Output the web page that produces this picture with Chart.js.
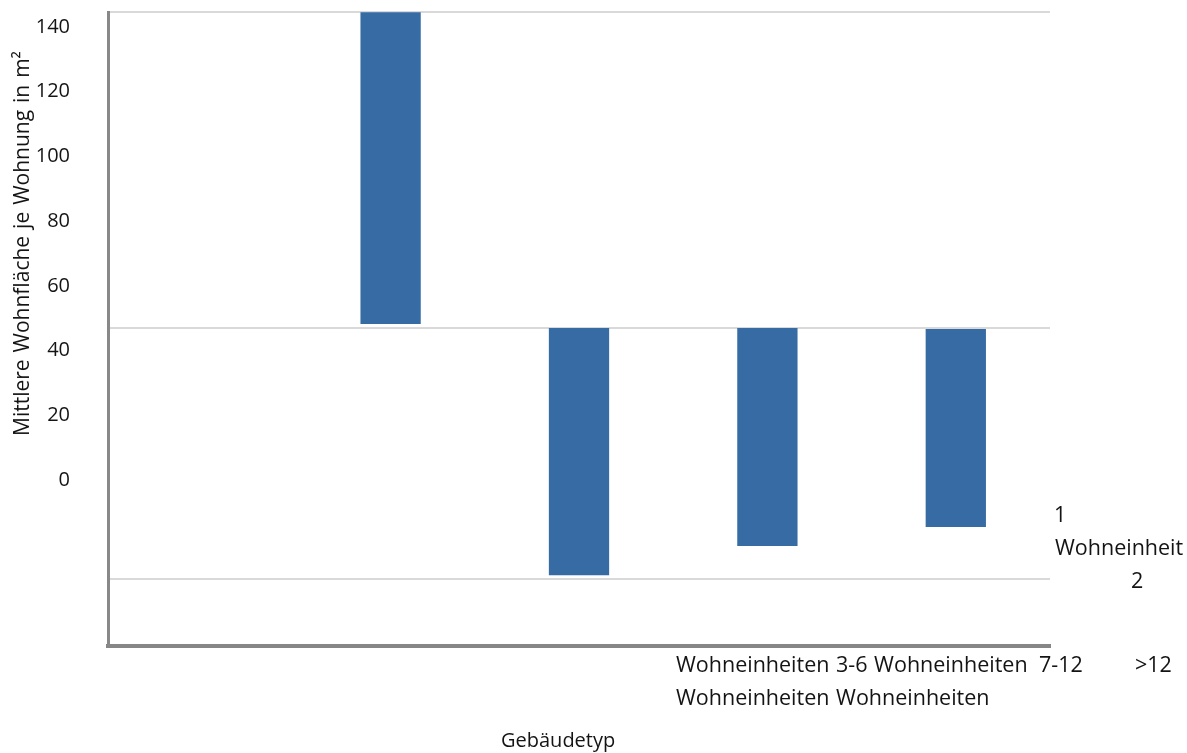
<!DOCTYPE html>
<html lang="de">
<head>
<meta charset="utf-8">
<title>Mittlere Wohnfläche je Wohnung nach Gebäudetyp</title>
<script src="https://cdn.jsdelivr.net/npm/chart.js@4/dist/chart.umd.min.js"></script>
<style>
  html, body { margin: 0; padding: 0; background: #ffffff; }
  #wrap { position: relative; width: 1187px; height: 753px; overflow: hidden; }
  #chart { position: absolute; left: 0; top: 0; }
  .lbl {
    position: absolute;
    font-family: "Open Sans", "Noto Sans", sans-serif;
    font-size: 21.5px;
    line-height: 21.5px;
    word-spacing: 1px;
    color: #141414;
    white-space: nowrap;
  }
  #ytitle {
    font-size: 21px;
    line-height: 21px;
    word-spacing: 1.5px;
    transform-origin: 0 0;
    transform: rotate(-90deg);
  }
  #xtitle { font-size: 20px; line-height: 20px; word-spacing: 0; }
</style>
</head>
<body>
<div id="wrap">
  <canvas id="chart" width="1187" height="753"></canvas>

  <div class="lbl" id="ytitle" style="left:11px; top:436px;">Mittlere Wohnfläche je Wohnung in m²</div>

  <div class="lbl" style="left:1054px; top:503px;">1</div>
  <div class="lbl" style="left:1055px; top:536px;">Wohneinheit</div>
  <div class="lbl" style="left:1131px; top:569px;">2</div>
  <div class="lbl" style="left:676px; top:653px;">Wohneinheiten 3-6 Wohneinheiten</div>
  <div class="lbl" style="left:1039px; top:653px;">7-12</div>
  <div class="lbl" style="left:1135px; top:653px;">&gt;12</div>
  <div class="lbl" style="left:676px; top:686px;">Wohneinheiten Wohneinheiten</div>
  <div class="lbl" id="xtitle" style="left:501px; top:730px;">Gebäudetyp</div>
</div>

<script>
// Gebäudetypen (one slot per type)
const categories = ['1 Wohneinheit', '2 Wohneinheiten', '3-6 Wohneinheiten', '7-12 Wohneinheiten', '>12 Wohneinheiten'];

// Floating bar ranges [from, to] in m², per slot
const barRanges = [null, [48.2, 144.6], [-29.4, 47.0], [-20.4, 47.0], [-14.5, 46.7]];

// Value axis
const yTickValues = [0, 20, 40, 60, 80, 100, 120, 140];
const yMin = -51.3;
const yMax = 144.64;

// Horizontal guide lines (in axis units)
const gridValues = [144.64, 46.98, -30.44];

const BAR_BLUE = '#366ba4';
const FONT = '"Open Sans", "Noto Sans", sans-serif';

// Scales should not reserve extra room for their labels above/below the plot
const noScalePadding = (s) => { s.paddingTop = 0; s.paddingBottom = 0; };

new Chart(document.getElementById('chart'), {
  type: 'bar',
  data: {
    labels: categories,
    datasets: [{
      data: barRanges,
      backgroundColor: BAR_BLUE,
      borderWidth: 0,
      barPercentage: 0.8,
      categoryPercentage: 0.4
    }]
  },
  options: {
    responsive: false,
    animation: false,
    events: [],
    layout: { padding: { left: 0, top: 12, right: 137, bottom: 107 } },
    plugins: {
      legend: { display: false },
      tooltip: { enabled: false }
    },
    scales: {
      x: {
        type: 'category',
        display: true,
        grid: { display: false, drawTicks: false },
        ticks: { display: false },
        border: { display: true, color: '#868686', width: 4 },
        afterFit: (s) => { s.height = 0; s.paddingLeft = 0; s.paddingRight = 0; }
      },
      y: {
        type: 'linear',
        position: 'left',
        min: yMin,
        max: yMax,
        grid: { display: false, drawTicks: false },
        border: { display: true, color: '#888888', width: 3 },
        ticks: {
          padding: 38,
          color: '#141414',
          font: { family: FONT, size: 20 }
        },
        afterBuildTicks: (s) => { s.ticks = yTickValues.map(v => ({ value: v })); },
        afterFit: (s) => { s.width = 108; noScalePadding(s); }
      },
      yGrid: {
        type: 'linear',
        position: 'right',
        min: yMin,
        max: yMax,
        grid: { display: true, drawTicks: false, color: '#d9d9d9', lineWidth: 2 },
        border: { display: false },
        ticks: { display: false },
        afterBuildTicks: (s) => { s.ticks = gridValues.map(v => ({ value: v })); },
        afterFit: (s) => { s.width = 0; noScalePadding(s); }
      }
    }
  }
});
</script>
</body>
</html>
